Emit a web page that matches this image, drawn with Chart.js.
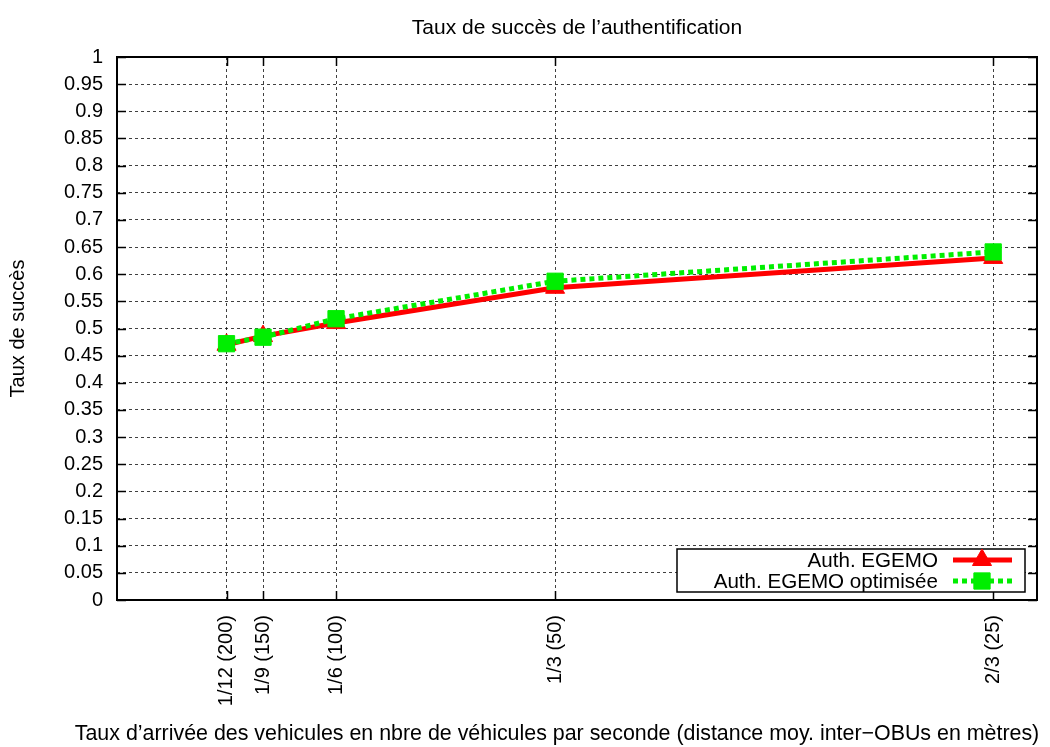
<!DOCTYPE html>
<html>
<head>
<meta charset="utf-8">
<script src="https://cdn.jsdelivr.net/npm/chart.js@4.4.1/dist/chart.umd.min.js"></script>
<style>
html,body{margin:0;padding:0;background:#fff;}
#wrap{width:1050px;height:747px;position:relative;}
</style>
</head>
<body>
<div id="wrap"><canvas id="c" width="1050" height="747"></canvas></div>
<script>
// ---- data ----
const chartTitle = "Taux de succès de l’authentification";
const xAxisTitle = "Taux d’arrivée des vehicules en nbre de véhicules par seconde (distance moy. inter−OBUs en mètres)";
const yAxisTitle = "Taux de succès";
const xValues = [1/12, 1/9, 1/6, 1/3, 2/3];
const xTickLabels = ["1/12 (200)", "1/9 (150)", "1/6 (100)", "1/3 (50)", "2/3 (25)"];
const seriesNames = ["Auth. EGEMO", "Auth. EGEMO optimisée"];
const egemo = [0.470, 0.486, 0.510, 0.575, 0.630];
const egemoOpt = [0.472, 0.484, 0.518, 0.587, 0.641];
const yMin = 0, yMax = 1, yStep = 0.05;
const xMin = 0, xMax = 0.7;

const FONT = "'Liberation Sans', Arial, Helvetica, sans-serif";
const FS = 20;

const toPts = (ys) => xValues.map((x, i) => ({x: x, y: ys[i]}));

const framePlugin = {
  id: 'frameLegend',
  afterDraw(chart) {
    const ctx = chart.ctx;
    const a = chart.chartArea;
    const xs = chart.scales.x, ys = chart.scales.y;
    ctx.save();
    // title
    ctx.fillStyle = '#000';
    ctx.font = '21px ' + FONT;
    ctx.textAlign = 'center';
    ctx.textBaseline = 'middle';
    ctx.fillText(chartTitle, (a.left + a.right) / 2, 28);
    // x axis title
    ctx.font = '21.4px ' + FONT;
    ctx.fillText(xAxisTitle, 557, 734);
    // frame
    ctx.strokeStyle = '#000';
    ctx.lineWidth = 2;
    ctx.setLineDash([]);
    ctx.strokeRect(a.left, a.top, a.right - a.left, a.bottom - a.top);
    // inward tick marks
    ctx.lineWidth = 1.5;
    const tl = 9;
    ctx.beginPath();
    ys.ticks.forEach(t => {
      const y = Math.round(ys.getPixelForValue(t.value)) + 0.5;
      ctx.moveTo(a.left, y); ctx.lineTo(a.left + tl, y);
      ctx.moveTo(a.right, y); ctx.lineTo(a.right - tl, y);
    });
    xValues.forEach(v => {
      const x = Math.round(xs.getPixelForValue(v)) + 0.5;
      ctx.moveTo(x, a.bottom); ctx.lineTo(x, a.bottom - tl);
      ctx.moveTo(x, a.top); ctx.lineTo(x, a.top + tl);
    });
    ctx.stroke();
    // legend
    const bx = 677, by = 549, bw = 348, bh = 43;
    ctx.fillStyle = '#fff';
    ctx.fillRect(bx, by, bw, bh);
    ctx.strokeStyle = '#000';
    ctx.lineWidth = 1.5;
    ctx.strokeRect(bx, by, bw, bh);
    const dsets = chart.data.datasets;
    const rows = [560, 581];
    dsets.forEach((ds, i) => {
      const y = rows[i];
      ctx.save();
      ctx.fillStyle = '#000';
      ctx.font = '20.6px ' + FONT;
      ctx.textAlign = 'right';
      ctx.textBaseline = 'middle';
      ctx.fillText(ds.label, 938, y + 1);
      ctx.strokeStyle = ds.borderColor;
      ctx.lineWidth = ds.borderWidth;
      ctx.setLineDash(ds.borderDash || []);
      ctx.beginPath();
      ctx.moveTo(953, y); ctx.lineTo(1012, y);
      ctx.stroke();
      ctx.setLineDash([]);
      ctx.fillStyle = ds.pointBackgroundColor;
      ctx.strokeStyle = ds.pointBorderColor;
      ctx.lineWidth = 1;
      Chart.helpers.drawPoint(ctx, {
        pointStyle: ds.pointStyle, radius: ds.pointRadius, borderWidth: 1, rotation: 0
      }, 982, y);
      ctx.restore();
    });
    ctx.restore();
  }
};

const gridOpts = {color: 'rgba(0,0,0,0.75)', lineWidth: 1, drawTicks: false};

new Chart(document.getElementById('c'), {
  type: 'line',
  data: {
    datasets: [
      {
        label: seriesNames[0],
        data: toPts(egemo),
        borderColor: '#ff0000',
        backgroundColor: '#ff0000',
        borderWidth: 5,
        pointStyle: 'triangle',
        pointRadius: 11,
        pointBackgroundColor: '#ff0000',
        pointBorderColor: '#ff0000',
        pointBorderWidth: 1,
        tension: 0,
        order: 1
      },
      {
        label: seriesNames[1],
        data: toPts(egemoOpt),
        borderColor: '#00ee00',
        backgroundColor: '#00ee00',
        borderWidth: 5,
        borderDash: [5, 4],
        pointStyle: 'rect',
        pointRadius: 11.5,
        pointBackgroundColor: '#00ee00',
        pointBorderColor: '#00ee00',
        pointBorderWidth: 1,
        tension: 0,
        order: 0
      }
    ]
  },
  options: {
    responsive: false,
    animation: false,
    events: [],
    layout: {padding: {top: 57, left: 0, right: 13, bottom: 0}},
    plugins: {legend: {display: false}, title: {display: false}, tooltip: {enabled: false}},
    scales: {
      x: {
        type: 'linear',
        min: xMin, max: xMax,
        afterBuildTicks: (s) => { s.ticks = xValues.map(v => ({value: v})); },
        afterFit: (s) => { s.height = 147; },
        grid: gridOpts,
        border: {display: false, dash: [3, 3]},
        ticks: {
          autoSkip: false, minRotation: 90, maxRotation: 90, padding: 15,
          color: '#000', font: {family: FONT, size: FS},
          callback: (v, i) => xTickLabels[i]
        },
        title: {display: false}
      },
      y: {
        type: 'linear',
        min: yMin, max: yMax,
        afterFit: (s) => { s.width = 117; },
        grid: gridOpts,
        border: {display: false, dash: [3, 3]},
        ticks: {
          stepSize: yStep, padding: 14, color: '#000', font: {family: FONT, size: FS},
          callback: (v) => String(Number(v.toFixed(2)))
        },
        title: {display: true, text: yAxisTitle, color: '#000', font: {family: FONT, size: FS}, padding: {top: 6, bottom: 0}}
      }
    }
  },
  plugins: [framePlugin]
});
</script>
</body>
</html>
